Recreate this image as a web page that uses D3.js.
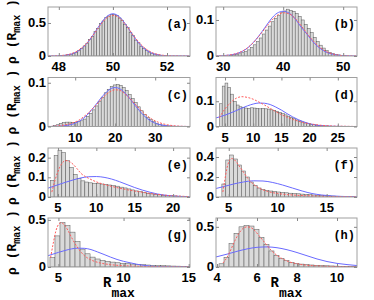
<!DOCTYPE html>
<html lang="en">
<head>
  <meta charset="UTF-8">
  <title>R_max histograms</title>
  <script src="https://d3js.org/d3.v7.min.js"></script>
  <style>
    body { margin: 0; background: #fff; }
    #wrap { position: relative; width: 374px; height: 300px; }
    #chart { position: absolute; left: 0; top: 0; }
    .tick-label { font-family: "Liberation Sans", Arial, sans-serif; font-weight: bold; font-size: 13px; fill: #000; }
    .ylab { position: absolute; font-family: "Liberation Sans", Arial, sans-serif; font-weight: bold; font-size: 13px;
            line-height: 16px; color: #000; white-space: nowrap; }
    .mono { font-family: "Liberation Mono", "DejaVu Sans Mono", monospace; font-weight: bold; }
  </style>
</head>
<body>
<div id="wrap"><svg id="chart" width="374" height="300"></svg></div>
<script>
  // ---- data ----
  const panelNames = ["(a)", "(b)", "(c)", "(d)", "(e)", "(f)", "(g)", "(h)"];

  // (a)
  const aXDomain = [47.6, 52.85], aYDomain = [0, 0.742];
  const aXTicks = [48, 50, 52], aYTicks = [0, 0.5];
  const aBinStart = 48.0, aBinWidth = 0.1;
  const aBars = [0.004, 0.006, 0.012, 0.019, 0.027, 0.043, 0.057, 0.085, 0.11, 0.153, 0.19, 0.25, 0.298, 0.368, 0.42, 0.49, 0.53, 0.585, 0.605, 0.63,
                 0.625, 0.615, 0.575, 0.54, 0.48, 0.43, 0.36, 0.31, 0.24, 0.2, 0.148, 0.115, 0.08, 0.06, 0.04, 0.03, 0.017, 0.012, 0.007, 0.004];
  const aBlue = [[47.6, 0], [48.0, 0.0035], [48.25, 0.012], [48.5, 0.034], [48.75, 0.084], [49.0, 0.174], [49.25, 0.308], [49.5, 0.462], [49.75, 0.59], [50.0, 0.64],
                 [50.25, 0.59], [50.5, 0.462], [50.75, 0.308], [51.0, 0.174], [51.25, 0.084], [51.5, 0.034], [51.75, 0.012], [52.0, 0.0035], [52.85, 0]];
  const aRed = [[47.6, 0], [48.0, 0.005], [48.25, 0.015], [48.5, 0.04], [48.75, 0.092], [49.0, 0.18], [49.25, 0.305], [49.5, 0.45], [49.75, 0.57], [50.0, 0.615],
                [50.25, 0.575], [50.5, 0.46], [50.75, 0.315], [51.0, 0.19], [51.25, 0.098], [51.5, 0.043], [51.75, 0.017], [52.0, 0.006], [52.5, 0.001], [52.85, 0]];

  // (b)
  const bXDomain = [28.8, 52.3], bYDomain = [0, 0.136];
  const bXTicks = [30, 40, 50], bYTicks = [0, 0.1];
  const bBinStart = 31.0, bBinWidth = 0.5;
  const bBars = [0.002, 0.003, 0.004, 0.006, 0.009, 0.012, 0.017, 0.024, 0.031, 0.04, 0.05, 0.061, 0.072, 0.083, 0.095, 0.104, 0.112, 0.12, 0.125, 0.13,
                 0.127, 0.124, 0.118, 0.11, 0.1, 0.088, 0.077, 0.065, 0.052, 0.04, 0.03, 0.022, 0.015, 0.01, 0.007, 0.004, 0.003, 0.002, 0.001];
  const bBlue = [[28.8, 0], [30, 0.001], [31, 0.0024], [32, 0.0055], [33, 0.0114], [34, 0.0215], [35, 0.037], [36, 0.057], [37, 0.08], [38, 0.103], [39, 0.119], [40, 0.124],
                 [41, 0.119], [42, 0.103], [43, 0.08], [44, 0.06], [45, 0.039], [46, 0.023], [47, 0.012], [48, 0.006], [49, 0.0025], [50, 0.001], [52.3, 0]];
  const bRed = [[28.8, 0], [30, 0.001], [32, 0.006], [33, 0.012], [34, 0.022], [35, 0.037], [36, 0.056], [37, 0.077], [38, 0.098], [39, 0.113], [40, 0.12],
                [41, 0.117], [42, 0.104], [43, 0.084], [44, 0.062], [45, 0.042], [46, 0.026], [47, 0.014], [48, 0.007], [49, 0.003], [50, 0.001], [52.3, 0]];

  // (c)
  const cXDomain = [3.2, 38.7], cYDomain = [0, 0.112];
  const cXTicks = [10, 20, 30], cYTicks = [0, 0.1];
  const cBinStart = 4.5, cBinWidth = 0.75;
  const cBars = [0.002, 0.004, 0.007, 0.009, 0.01, 0.01, 0.009, 0.009, 0.011, 0.013, 0.017, 0.023, 0.03, 0.038, 0.047, 0.057, 0.067, 0.077, 0.085, 0.091,
                 0.095, 0.096, 0.094, 0.089, 0.082, 0.073, 0.064, 0.055, 0.045, 0.036, 0.028, 0.021, 0.016, 0.011, 0.0075, 0.005, 0.0034, 0.002, 0.0013, 0.0008, 0.0005];
  const cBlue = [[3.2, 0], [5, 0.0003], [7, 0.0014], [9, 0.0045], [11, 0.012], [13, 0.0265], [15, 0.048], [17, 0.071], [19, 0.087], [20, 0.089],
                 [21, 0.087], [23, 0.071], [25, 0.048], [27, 0.0265], [29, 0.012], [31, 0.0045], [33, 0.0014], [35, 0.0003], [38.7, 0]];
  const cRed = [[3.2, 0], [5, 0.0008], [7, 0.003], [9, 0.007], [11, 0.015], [13, 0.029], [15, 0.047], [17, 0.067], [19, 0.081], [20, 0.084],
                [21, 0.083], [23, 0.07], [25, 0.051], [27, 0.032], [29, 0.018], [31, 0.009], [33, 0.004], [35, 0.0015], [38.7, 0]];

  // (d)
  const dXDomain = [3.4, 28.4], dYDomain = [0, 0.194];
  const dXTicks = [5, 10, 15, 20, 25], dYTicks = [0, 0.1];
  const dBinStart = 4.0, dBinWidth = 0.5;
  const dBars = [0.09, 0.16, 0.172, 0.155, 0.128, 0.1, 0.085, 0.078, 0.075, 0.073, 0.072, 0.074, 0.073, 0.072, 0.07, 0.072, 0.07, 0.069, 0.066, 0.064,
                 0.06, 0.056, 0.051, 0.046, 0.041, 0.036, 0.031, 0.026, 0.022, 0.018, 0.014, 0.011, 0.009, 0.007, 0.005, 0.004, 0.003, 0.002, 0.002, 0.001, 0.001];
  const dBlue = [[3.4, 0.034], [5, 0.045], [7, 0.063], [9, 0.082], [10, 0.089], [11, 0.093], [12, 0.092], [13, 0.087], [14, 0.077], [15, 0.065], [16, 0.051],
                 [17, 0.038], [18, 0.027], [19, 0.018], [20, 0.011], [21, 0.006], [22, 0.0035], [24, 0.001], [26, 0.0002], [28.4, 0]];
  const dRed = [[4.0, 0.035], [5, 0.07], [6, 0.095], [7, 0.112], [8, 0.118], [9, 0.115], [10, 0.108], [11, 0.097], [12, 0.085], [13, 0.072], [14, 0.059],
                [15, 0.047], [16, 0.037], [17, 0.028], [18, 0.021], [19, 0.015], [20, 0.011], [22, 0.005], [24, 0.002], [26, 0.001], [28.4, 0]];

  // (e)
  const eXDomain = [3.7, 22.2], eYDomain = [0, 0.249];
  const eXTicks = [5, 10, 15, 20], eYTicks = [0, 0.1, 0.2];
  const eBinStart = 4.0, eBinWidth = 0.5;
  const eBars = [0.085, 0.21, 0.238, 0.225, 0.185, 0.15, 0.115, 0.095, 0.082, 0.076, 0.072, 0.07, 0.068, 0.066, 0.064, 0.061, 0.058, 0.055, 0.05, 0.046,
                 0.041, 0.036, 0.031, 0.027, 0.023, 0.019, 0.016, 0.013, 0.011, 0.009, 0.007, 0.006, 0.005, 0.004, 0.003, 0.002];
  const eBlue = [[3.7, 0.045], [5, 0.062], [6, 0.075], [7, 0.087], [8, 0.097], [9, 0.103], [10, 0.104], [11, 0.1], [12, 0.091], [13, 0.078], [14, 0.063],
                 [15, 0.048], [16, 0.035], [17, 0.024], [18, 0.015], [19, 0.009], [20, 0.005], [21, 0.003], [22.2, 0.001]];
  const eRed = [[4.2, 0.025], [4.5, 0.07], [5, 0.13], [5.5, 0.17], [6, 0.185], [6.5, 0.18], [7, 0.165], [7.5, 0.143], [8, 0.12], [9, 0.095], [10, 0.077],
                [11, 0.064], [12, 0.054], [13, 0.045], [14, 0.037], [15, 0.03], [16, 0.024], [17, 0.018], [18, 0.013], [19, 0.009], [20, 0.006], [21, 0.004], [22.2, 0.002]];

  // (f)
  const fXDomain = [3.7, 18.1], fYDomain = [0, 0.49];
  const fXTicks = [5, 10, 15], fYTicks = [0, 0.2, 0.4];
  const fBinStart = 4.3, fBinWidth = 0.4;
  const fBars = [0.13, 0.37, 0.42, 0.38, 0.32, 0.26, 0.2, 0.15, 0.115, 0.09, 0.075, 0.066, 0.06, 0.055, 0.05, 0.046, 0.042, 0.038, 0.035, 0.032,
                 0.029, 0.026, 0.023, 0.02, 0.018, 0.015, 0.013, 0.011, 0.009, 0.007, 0.006, 0.005, 0.004, 0.003];
  const fBlue = [[3.7, 0.085], [4.5, 0.105], [5.5, 0.13], [6.5, 0.15], [7.5, 0.162], [8.5, 0.16], [9.5, 0.145], [10.5, 0.12], [11.5, 0.09], [12.5, 0.06],
                 [13.5, 0.035], [14.5, 0.02], [15.5, 0.011], [16.5, 0.006], [17.5, 0.003], [18.1, 0.002]];
  const fRed = [[4.4, 0.05], [4.6, 0.17], [4.8, 0.28], [5.0, 0.35], [5.3, 0.385], [5.6, 0.37], [6.0, 0.32], [6.5, 0.25], [7, 0.18], [7.5, 0.13], [8, 0.095],
                [9, 0.055], [10, 0.035], [11, 0.024], [12, 0.017], [13, 0.012], [14, 0.009], [15, 0.006], [16, 0.004], [17, 0.003], [18.1, 0.002]];

  // (g)
  const gXDomain = [4.2, 15.1], gYDomain = [0, 0.52];
  const gXTicks = [5, 10, 15], gYTicks = [0, 0.5];
  const gBinStart = 4.35, gBinWidth = 0.385;
  const gBars = [0.1, 0.33, 0.47, 0.44, 0.37, 0.27, 0.19, 0.14, 0.105, 0.085, 0.07, 0.06, 0.052, 0.045, 0.04, 0.035, 0.031, 0.027, 0.024, 0.021,
                 0.018, 0.016, 0.014, 0.012, 0.01, 0.009, 0.008, 0.007];
  const gBlue = [[4.2, 0.12], [5, 0.155], [5.5, 0.175], [6, 0.192], [6.5, 0.2], [7, 0.198], [7.5, 0.185], [8, 0.16], [8.5, 0.133], [9, 0.105], [9.5, 0.08],
                 [10, 0.06], [10.5, 0.045], [11, 0.03], [11.5, 0.018], [12, 0.01], [13, 0.003], [15.1, 0]];
  const gRed = [[4.4, 0.1], [4.6, 0.25], [4.8, 0.38], [5.0, 0.45], [5.2, 0.47], [5.5, 0.44], [5.8, 0.37], [6.1, 0.29], [6.5, 0.2], [7, 0.12], [7.5, 0.075],
                [8, 0.05], [9, 0.025], [10, 0.014], [11, 0.008], [12, 0.005], [13, 0.003], [15.1, 0.001]];

  // (h)
  const hXDomain = [3.95, 11], hYDomain = [0, 0.61];
  const hXTicks = [4, 6, 8, 10], hYTicks = [0, 0.5];
  const hBinStart = 4.1, hBinWidth = 0.25;
  const hBars = [0.04, 0.12, 0.29, 0.42, 0.5, 0.515, 0.51, 0.47, 0.37, 0.28, 0.2, 0.145, 0.105, 0.078, 0.058, 0.045, 0.036, 0.03, 0.025, 0.021,
                 0.018, 0.015, 0.013, 0.011, 0.009, 0.007, 0.005, 0.004];
  const hBlue = [[3.95, 0.125], [4.5, 0.16], [5, 0.195], [5.5, 0.225], [6, 0.245], [6.5, 0.25], [7, 0.24], [7.5, 0.215], [8, 0.18], [8.5, 0.14], [9, 0.1],
                 [9.5, 0.068], [10, 0.045], [10.5, 0.03], [11, 0.018]];
  const hRed = [[4.3, 0.05], [4.5, 0.12], [4.7, 0.22], [4.9, 0.33], [5.1, 0.42], [5.3, 0.48], [5.5, 0.5], [5.7, 0.49], [5.9, 0.45], [6.1, 0.39], [6.4, 0.3],
                [6.7, 0.21], [7.0, 0.145], [7.5, 0.075], [8, 0.04], [8.5, 0.022], [9, 0.013], [9.5, 0.008], [10, 0.005], [11, 0.002]];

  // ---- table for drawing ----
  const panels = [
    [aXDomain, aYDomain, aXTicks, aYTicks, aBinStart, aBinWidth, aBars, aBlue, aRed],
    [bXDomain, bYDomain, bXTicks, bYTicks, bBinStart, bBinWidth, bBars, bBlue, bRed],
    [cXDomain, cYDomain, cXTicks, cYTicks, cBinStart, cBinWidth, cBars, cBlue, cRed],
    [dXDomain, dYDomain, dXTicks, dYTicks, dBinStart, dBinWidth, dBars, dBlue, dRed],
    [eXDomain, eYDomain, eXTicks, eYTicks, eBinStart, eBinWidth, eBars, eBlue, eRed],
    [fXDomain, fYDomain, fXTicks, fYTicks, fBinStart, fBinWidth, fBars, fBlue, fRed],
    [gXDomain, gYDomain, gXTicks, gYTicks, gBinStart, gBinWidth, gBars, gBlue, gRed],
    [hXDomain, hYDomain, hXTicks, hYTicks, hBinStart, hBinWidth, hBars, hBlue, hRed]
  ].map((p, i) => ({
    name: panelNames[i], xDomain: p[0], yDomain: p[1], xTicks: p[2], yTicks: p[3],
    bins: p[6].map((v, j) => ({x0: p[4] + j * p[5], x1: p[4] + (j + 1) * p[5], y: v})),
    blue: p[7], red: p[8]
  }));

  // ---- layout ----
  const W = 374;
  const colLeft = [48, 216], colWidth = [142, 141];
  const rowTop = [7, 77.5, 148, 218], rowHeight = 49;
  const fmt = d3.format("");

  const svg = d3.select("#chart");
  const yLabels = [];

  panels.forEach((p, i) => {
    const col = i % 2, row = Math.floor(i / 2);
    const x0 = colLeft[col], y0 = rowTop[row], w = colWidth[col], h = rowHeight;
    const x = d3.scaleLinear().domain(p.xDomain).range([x0, x0 + w]);
    const y = d3.scaleLinear().domain(p.yDomain).range([y0 + h, y0]);

    const g = svg.append("g");
    const clipId = "clip" + i;
    g.append("clipPath").attr("id", clipId)
      .append("rect").attr("x", x0).attr("y", y0).attr("width", w).attr("height", h);

    const plot = g.append("g").attr("clip-path", `url(#${clipId})`);

    plot.selectAll("rect.bar").data(p.bins).enter().append("rect")
      .attr("class", "bar")
      .attr("x", d => x(d.x0))
      .attr("width", d => x(d.x1) - x(d.x0))
      .attr("y", d => y(d.y))
      .attr("height", d => y(0) - y(d.y))
      .attr("fill", "#dadada")
      .attr("stroke", "#555")
      .attr("stroke-width", 0.5);

    const line = d3.line().x(d => x(d[0])).y(d => y(d[1])).curve(d3.curveMonotoneX);

    plot.append("path").datum(p.blue)
      .attr("d", line).attr("fill", "none")
      .attr("stroke", "#6a6aff").attr("stroke-width", 1);

    plot.append("path").datum(p.red)
      .attr("d", line).attr("fill", "none")
      .attr("stroke", "#ff5c5c").attr("stroke-width", 1)
      .attr("stroke-dasharray", "2,1.5");

    // box frame with inner ticks on all sides
    g.append("rect").attr("x", x0).attr("y", y0).attr("width", w).attr("height", h)
      .attr("fill", "none").attr("stroke", "#a0a0a0").attr("stroke-width", 1);

    const axes = [
      g.append("g").attr("transform", `translate(0,${y0 + h})`)
        .call(d3.axisBottom(x).tickValues(p.xTicks).tickSizeInner(-3).tickSizeOuter(0).tickFormat("")),
      g.append("g").attr("transform", `translate(0,${y0})`)
        .call(d3.axisTop(x).tickValues(p.xTicks).tickSizeInner(-3).tickSizeOuter(0).tickFormat("")),
      g.append("g").attr("transform", `translate(${x0},0)`)
        .call(d3.axisLeft(y).tickValues(p.yTicks).tickSizeInner(-3).tickSizeOuter(0).tickFormat("")),
      g.append("g").attr("transform", `translate(${x0 + w},0)`)
        .call(d3.axisRight(y).tickValues(p.yTicks).tickSizeInner(-3).tickSizeOuter(0).tickFormat(""))
    ];
    axes.forEach(a => {
      a.select(".domain").remove();
      a.selectAll(".tick line").attr("stroke", "#888");
      a.selectAll(".tick text").remove();
    });

    g.selectAll("text.xtick").data(p.xTicks).enter().append("text")
      .attr("class", "tick-label xtick")
      .attr("x", d => x(d)).attr("y", y0 + h + 15)
      .attr("text-anchor", "middle")
      .text(d => fmt(d));

    p.yTicks.forEach(t => yLabels.push({right: x0 - 2, cy: y(t), text: fmt(t)}));

    g.append("text").attr("class", "mono")
      .attr("x", x0 + w - 2).attr("y", y0 + 21)
      .attr("text-anchor", "end").attr("font-size", 12)
      .text(p.name);
  });

  // y tick labels as positioned html text over the svg
  d3.select("#wrap").selectAll("div.ylab").data(yLabels).enter().append("div")
    .attr("class", "ylab")
    .style("right", d => (W - d.right) + "px")
    .style("top", d => (d.cy - 8) + "px")
    .text(d => d.text);

  // y axis labels, one per row
  rowTop.forEach(t => {
    const cy = t + rowHeight / 2;
    const lab = svg.append("text").attr("class", "mono")
      .attr("transform", `translate(16,${cy}) rotate(-90)`)
      .attr("text-anchor", "middle").attr("font-size", 13);
    lab.append("tspan").text("\u03c1 (R");
    lab.append("tspan").attr("font-size", 10).attr("dy", 4).text("max");
    lab.append("tspan").attr("dy", -4).text(" )");
  });

  // x axis labels
  colLeft.forEach((l, c) => {
    const lab = svg.append("text").attr("class", "mono")
      .attr("x", l + colWidth[c] / 2).attr("y", 287)
      .attr("text-anchor", "middle").attr("font-size", 14);
    lab.append("tspan").text("R");
    lab.append("tspan").attr("font-size", 13).attr("dy", 10).text("max");
  });
</script>
</body>
</html>
